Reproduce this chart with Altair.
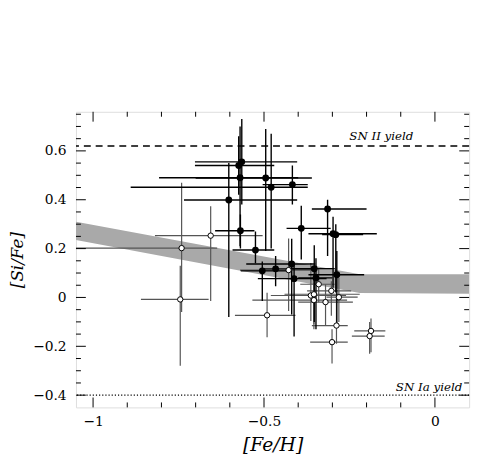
import altair as alt
import pandas as pd

# ---- data ----
# filled (black) points
f_x   = [-0.565, -0.574, -0.570, -0.495, -0.479, -0.417, -0.603, -0.314, -0.391, -0.569,
         -0.298, -0.290, -0.525, -0.505, -0.466, -0.419, -0.353, -0.412, -0.348, -0.287]
f_y   = [0.555, 0.540, 0.490, 0.489, 0.451, 0.462, 0.399, 0.362, 0.283, 0.273,
         0.261, 0.257, 0.194, 0.109, 0.117, 0.137, 0.118, 0.077, 0.080, 0.093]
f_xlo = [-0.702, -0.702, -0.807, -0.700, -0.890, -0.504, -0.734, -0.360, -0.434, -0.643,
         -0.370, -0.330, -0.592, -0.568, -0.504, -0.552, -0.427, -0.518, -0.400, -0.370]
f_xhi = [-0.403, -0.470, -0.400, -0.360, -0.372, -0.372, -0.403, -0.200, -0.305, -0.528,
         -0.170, -0.210, -0.470, -0.418, -0.360, -0.350, -0.293, -0.317, -0.300, -0.207]
f_ylo = [0.38, 0.42, 0.21, 0.19, 0.20, 0.38, -0.08, 0.17, 0.155, 0.20,
         0.04, 0.02, 0.14, -0.015, 0.046, -0.07, -0.10, -0.16, -0.13, -0.12]
f_yhi = [0.73, 0.66, 0.70, 0.69, 0.67, 0.54, 0.55, 0.40, 0.375, 0.34,
         0.33, 0.30, 0.27, 0.147, 0.17, 0.24, 0.214, 0.14, 0.16, 0.19]

# open (white) points
o_x   = [-0.656, -0.741, -0.745, -0.491, -0.428, -0.340, -0.303, -0.363, -0.354, -0.354,
         -0.320, -0.281, -0.288, -0.301, -0.187, -0.191]
o_y   = [0.253, 0.202, -0.008, -0.073, 0.112, 0.054, 0.027, 0.008, 0.013, -0.011,
         -0.019, 0.001, -0.115, -0.183, -0.137, -0.158]
o_xlo = [-0.819, -1.10, -0.86, -0.585, -0.57, -0.394, -0.374, -0.48, -0.44, -0.534,
         -0.40, -0.317, -0.360, -0.365, -0.236, -0.243]
o_xhi = [-0.504, -0.637, -0.662, -0.408, -0.36, -0.293, -0.245, -0.26, -0.22, -0.257,
         -0.24, -0.226, -0.255, -0.255, -0.145, -0.147]
o_ylo = [-0.015, -0.06, -0.28, -0.163, -0.055, -0.02, -0.075, -0.096, -0.11, -0.13,
         -0.116, -0.10, -0.19, -0.27, -0.224, -0.23]
o_yhi = [0.373, 0.47, 0.13, 0.019, 0.241, 0.12, 0.066, 0.141, 0.09, 0.06,
         0.053, 0.08, 0.005, -0.13, -0.086, -0.10]

# grey model band
band_x  = [-1.05, -0.22, 0.10]
band_lo = [0.235, 0.018, 0.015]
band_hi = [0.310, 0.095, 0.095]

sn2_y = 0.62
sn1a_y = -0.40
yield_labels = ["SN II yield", "SN Ia yield"]
yield_label_x = [-0.063, 0.08]
yield_label_y = [0.645, -0.384]

x_major = [-1.0, -0.5, 0.0]
x_minor = [-0.9, -0.8, -0.7, -0.6, -0.4, -0.3, -0.2, -0.1]
y_major = [-0.4, -0.2, 0.0, 0.2, 0.4, 0.6]
y_minor = [-0.35, -0.3, -0.25, -0.15, -0.1, -0.05, 0.05, 0.1, 0.15, 0.25, 0.3, 0.35,
           0.45, 0.5, 0.55, 0.65, 0.7, 0.75]

X_DOM = [-1.05, 0.1]
Y_DOM = [-0.45, 0.76]
W, H = 399, 300

filled = pd.DataFrame(dict(x=f_x, y=f_y, xlo=f_xlo, xhi=f_xhi, ylo=f_ylo, yhi=f_yhi))
opened = pd.DataFrame(dict(x=o_x, y=o_y, xlo=o_xlo, xhi=o_xhi, ylo=o_ylo, yhi=o_yhi))
band = pd.DataFrame(dict(x=band_x, lo=band_lo, hi=band_hi))
labels = pd.DataFrame(dict(t=yield_labels, x=yield_label_x, y=yield_label_y))

minus = "datum.value < 0 ? '\u2212' + format(-datum.value, '') : format(datum.value, '')"

xs = alt.Scale(domain=X_DOM, nice=False, zero=False)
ys = alt.Scale(domain=Y_DOM, nice=False, zero=False)

x_axis = alt.Axis(values=x_major, labelExpr=minus, ticks=False, tickSize=0, domain=False,
                  grid=False, labelFont="DejaVu Serif", labelFontSize=14, labelPadding=7,
                  labelColor="black", title="[Fe/H]", titleFont="DejaVu Serif",
                  titleFontStyle="italic", titleFontWeight="normal", titleFontSize=19,
                  titlePadding=8, titleColor="black", labelFlush=False)
y_axis = alt.Axis(values=y_major, labelExpr=minus, ticks=False, tickSize=0, domain=False,
                  grid=False, labelFont="DejaVu Serif", labelFontSize=14, labelPadding=10,
                  labelColor="black", title="[Si/Fe]", titleFont="DejaVu Serif",
                  titleFontStyle="italic", titleFontWeight="normal", titleFontSize=17,
                  titlePadding=6, titleColor="black", labelFlush=False)

band_layer = alt.Chart(band).mark_area(color="#a9a9a9", clip=True).encode(
    x=alt.X("x:Q", scale=xs, axis=x_axis),
    y=alt.Y("lo:Q", scale=ys, axis=y_axis),
    y2="hi:Q",
)

sn2 = alt.Chart(pd.DataFrame({"y": [sn2_y]})).mark_rule(
    color="black", strokeDash=[7, 5], strokeWidth=1.3).encode(y=alt.Y("y:Q", scale=ys))
sn1a = alt.Chart(pd.DataFrame({"y": [sn1a_y]})).mark_rule(
    color="black", strokeDash=[1.2, 2], strokeWidth=1.2).encode(y=alt.Y("y:Q", scale=ys))

texts = alt.Chart(labels).mark_text(
    font="DejaVu Serif", fontStyle="italic", fontSize=12, align="right",
    baseline="alphabetic", color="black").encode(
    x=alt.X("x:Q", scale=xs), y=alt.Y("y:Q", scale=ys), text="t:N")

def bars(df, color, width):
    h = alt.Chart(df).mark_rule(color=color, strokeWidth=width, clip=True).encode(
        x=alt.X("xlo:Q", scale=xs), x2="xhi:Q", y=alt.Y("y:Q", scale=ys))
    v = alt.Chart(df).mark_rule(color=color, strokeWidth=width, clip=True).encode(
        x=alt.X("x:Q", scale=xs), y=alt.Y("ylo:Q", scale=ys), y2="yhi:Q")
    return h + v

open_bars = bars(opened, "#555555", 1.2)
fill_bars = bars(filled, "black", 1.4)

open_pts = alt.Chart(opened).mark_point(
    shape="circle", filled=True, fill="white", stroke="black", strokeWidth=1,
    size=30, opacity=1).encode(x=alt.X("x:Q", scale=xs), y=alt.Y("y:Q", scale=ys))
fill_pts = alt.Chart(filled).mark_circle(color="black", size=48, opacity=1).encode(
    x=alt.X("x:Q", scale=xs), y=alt.Y("y:Q", scale=ys))

def xticks(vals, length):
    df = pd.DataFrame({"v": vals})
    b = alt.Chart(df).mark_rule(color="black", strokeWidth=1).encode(
        x=alt.X("v:Q", scale=xs), y=alt.value(H), y2=alt.value(H - length))
    t = alt.Chart(df).mark_rule(color="black", strokeWidth=1).encode(
        x=alt.X("v:Q", scale=xs), y=alt.value(0), y2=alt.value(length))
    return b + t

def yticks(vals, length):
    df = pd.DataFrame({"v": vals})
    l = alt.Chart(df).mark_rule(color="black", strokeWidth=1).encode(
        y=alt.Y("v:Q", scale=ys), x=alt.value(0), x2=alt.value(length))
    r = alt.Chart(df).mark_rule(color="black", strokeWidth=1).encode(
        y=alt.Y("v:Q", scale=ys), x=alt.value(W), x2=alt.value(W - length))
    return l + r

chart = alt.layer(
    band_layer, sn2, sn1a, texts, open_bars, fill_bars, open_pts, fill_pts,
    xticks(x_major, 10), xticks(x_minor, 5), yticks(y_major, 10), yticks(y_minor, 5),
).properties(
    width=W, height=H,
    autosize=alt.AutoSizeParams(type="none"),
    padding={"left": 69, "top": 102, "right": 8, "bottom": 46},
).configure_view(stroke="black", strokeWidth=1.2).configure(background="white")

chart.save("out.html", embed_options={"renderer": "svg", "actions": False})
